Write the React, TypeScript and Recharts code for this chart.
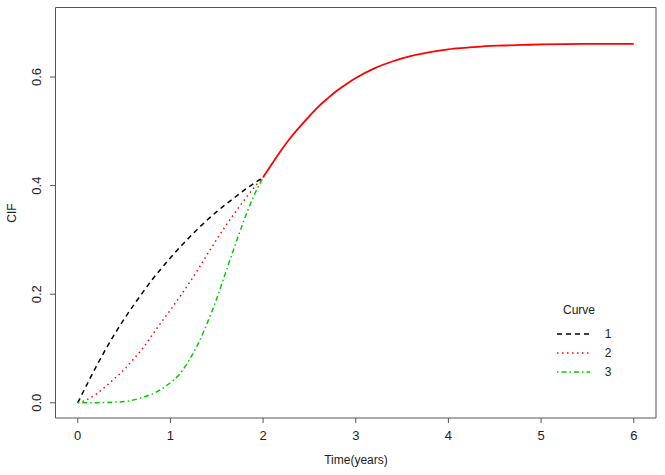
import React from 'react';
import { LineChart, Line, XAxis, YAxis, ReferenceArea, Legend, Label } from 'recharts';

// time grid and CIF values
const timeEarly = [0, 0.1, 0.2, 0.3, 0.4, 0.5, 0.6, 0.7, 0.8, 0.9, 1.0, 1.1, 1.2, 1.3, 1.4, 1.5, 1.6, 1.7, 1.8, 1.9, 2.0];
const curve1 = [0, 0.034, 0.067, 0.098, 0.127, 0.154, 0.179, 0.203, 0.226, 0.247, 0.267, 0.286, 0.304, 0.321, 0.337, 0.352, 0.366, 0.379, 0.392, 0.404, 0.415];
const curve2 = [0, 0.006, 0.016, 0.03, 0.045, 0.061, 0.08, 0.1, 0.124, 0.148, 0.171, 0.195, 0.22, 0.246, 0.274, 0.301, 0.327, 0.351, 0.374, 0.396, 0.415];
const curve3 = [0, 0, 0.0002, 0.0006, 0.0012, 0.0022, 0.005, 0.01, 0.016, 0.025, 0.037, 0.053, 0.078, 0.109, 0.148, 0.192, 0.242, 0.291, 0.339, 0.381, 0.415];

const timeLate = [2.0, 2.1, 2.2, 2.3, 2.4, 2.5, 2.6, 2.7, 2.8, 2.9, 3.0, 3.2, 3.4, 3.6, 3.8, 4.0, 4.2, 4.4, 4.6, 4.8, 5.0, 5.5, 6.0];
const common = [0.415, 0.441, 0.466, 0.489, 0.509, 0.528, 0.546, 0.561, 0.575, 0.587, 0.598, 0.616, 0.629, 0.639, 0.646, 0.651, 0.654, 0.657, 0.658, 0.659, 0.66, 0.661, 0.661];

const xTicks = [0, 1, 2, 3, 4, 5, 6];
const yTicks = [0, 0.2, 0.4, 0.6];
const curveNames = ['1', '2', '3'];

const FONT = '"Liberation Sans", Arial, sans-serif';
const AXIS = '#555';

const d1 = timeEarly.map((t, i) => ({ t, v: curve1[i] }));
const d2 = timeEarly.map((t, i) => ({ t, v: curve2[i] }));
const d3 = timeEarly.map((t, i) => ({ t, v: curve3[i] }));
const dLate = timeLate.map((t, i) => ({ t, v: common[i] }));

const curveStyles = [
  { color: '#000000', dash: '5 4' },
  { color: '#ff0000', dash: '1.5 3.5' },
  { color: '#00cc00', dash: '1.5 3 5 3' },
];

function XTick({ x, payload }: any) {
  return (
    <text x={x} y={435} dy="0.35em" textAnchor="middle" fontSize={13} fontFamily={FONT} fill="#222">
      {payload.value}
    </text>
  );
}

function YTick({ y, payload }: any) {
  return (
    <text transform={`translate(36, ${y}) rotate(-90)`} dy="0.35em" textAnchor="middle" fontSize={13} fontFamily={FONT} fill="#222">
      {Number(payload.value).toFixed(1)}
    </text>
  );
}

function CurveLegend() {
  return (
    <svg width={110} height={90} style={{ display: 'block' }}>
      <text x={39} y={15} dy="0.35em" textAnchor="middle" fontSize={12} fontFamily={FONT} fill="#222">Curve</text>
      {curveNames.map((name, i) => (
        <g key={name}>
          <line x1={17} x2={50} y1={39 + i * 19} y2={39 + i * 19} stroke={curveStyles[i].color} strokeWidth={1.5} strokeDasharray={curveStyles[i].dash} />
          <text x={68} y={39 + i * 19} dy="0.35em" textAnchor="middle" fontSize={12} fontFamily={FONT} fill="#222">{name}</text>
        </g>
      ))}
    </svg>
  );
}

export default function App() {
  return (
    <div style={{ position: 'absolute', left: 0, top: 0, background: '#fff' }}>
      <LineChart width={665} height={475} margin={{ top: 7.5, right: 9, bottom: 0, left: 0 }}>
        <XAxis
          dataKey="t"
          type="number"
          domain={[-0.24, 6.24]}
          ticks={xTicks}
          allowDataOverflow
          height={57}
          axisLine={false}
          tickSize={5}
          tickLine={{ stroke: AXIS }}
          tick={<XTick />}
        >
          <Label content={() => (
            <text x={356} y={460} dy="0.35em" textAnchor="middle" fontSize={12} fontFamily={FONT} fill="#222">Time(years)</text>
          )} />
        </XAxis>
        <YAxis
          dataKey="v"
          type="number"
          domain={[-0.028, 0.728]}
          ticks={yTicks}
          allowDataOverflow
          width={55.5}
          axisLine={false}
          tickSize={5.5}
          tickLine={{ stroke: AXIS }}
          tick={<YTick />}
        >
          <Label content={() => (
            <text transform="translate(12, 213) rotate(-90)" dy="0.35em" textAnchor="middle" fontSize={12} fontFamily={FONT} fill="#222">CIF</text>
          )} />
        </YAxis>
        <ReferenceArea x1={-0.24} x2={6.24} y1={-0.028} y2={0.728} fill="none" stroke={AXIS} strokeWidth={1} ifOverflow="visible" />
        <Line data={d1} dataKey="v" type="monotone" stroke={curveStyles[0].color} strokeWidth={1.5} strokeDasharray={curveStyles[0].dash} dot={false} isAnimationActive={false} />
        <Line data={d2} dataKey="v" type="monotone" stroke={curveStyles[1].color} strokeWidth={1.5} strokeDasharray={curveStyles[1].dash} dot={false} isAnimationActive={false} />
        <Line data={d3} dataKey="v" type="monotone" stroke={curveStyles[2].color} strokeWidth={1.5} strokeDasharray={curveStyles[2].dash} dot={false} isAnimationActive={false} />
        <Line data={dLate} dataKey="v" type="monotone" stroke="#ff0000" strokeWidth={1.8} dot={false} isAnimationActive={false} />
        <Legend
          layout="horizontal"
          verticalAlign="middle"
          align="center"
          wrapperStyle={{ position: 'absolute', left: 540, top: 295, width: 110 }}
          content={() => <CurveLegend />}
        />
      </LineChart>
    </div>
  );
}
